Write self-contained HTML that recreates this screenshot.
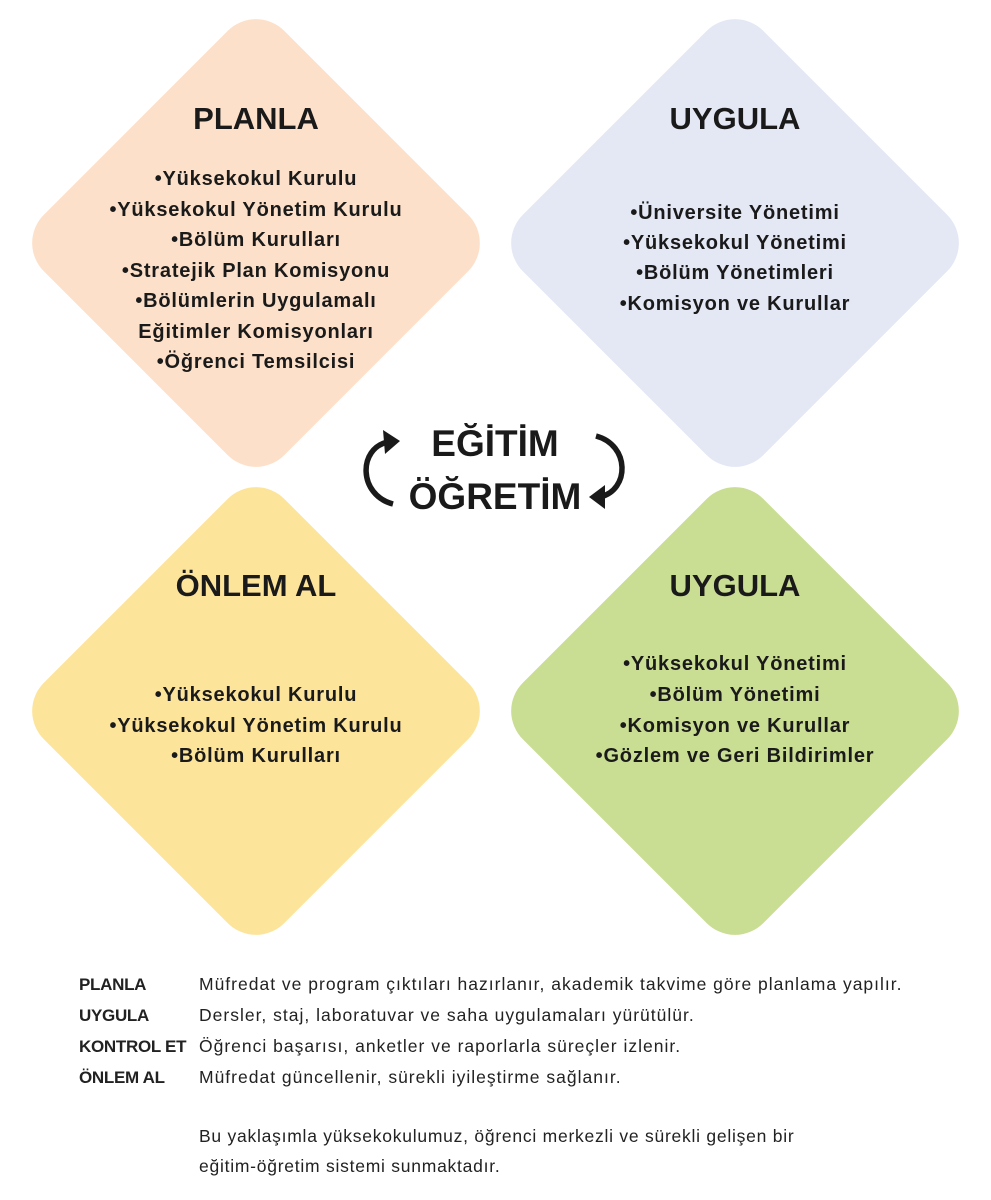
<!DOCTYPE html>
<html><head><meta charset="utf-8"><style>
html,body{margin:0;padding:0;background:#fff;}
body{width:991px;height:1200px;overflow:hidden;position:relative;font-family:"Liberation Sans",sans-serif;}
svg{position:absolute;left:0;top:0;}
.t{font-family:"Liberation Sans",sans-serif;font-weight:bold;fill:#1a1a1a;text-anchor:middle;}
.h{font-size:31px;}
.i{font-size:20px;letter-spacing:0.8px;}
.c{font-size:37px;}
.leg{position:absolute;left:79px;font-size:17.5px;color:#222;white-space:nowrap;}
.leg b{display:inline-block;width:120px;font-weight:bold;letter-spacing:-0.3px;font-size:17px;}
.leg span{letter-spacing:1px;}
.p{position:absolute;left:199px;font-size:17.5px;color:#222;line-height:30px;letter-spacing:0.75px;}
</style></head><body>
<svg width="991" height="1200" viewBox="0 0 991 1200">
<g transform="translate(256,243) rotate(45)"><rect x="-170" y="-170" width="340" height="340" rx="40" fill="#fde0c9"/></g>
<g transform="translate(735,243) rotate(45)"><rect x="-170" y="-170" width="340" height="340" rx="40" fill="#e4e7f4"/></g>
<g transform="translate(256,711) rotate(45)"><rect x="-170" y="-170" width="340" height="340" rx="40" fill="#fde49b"/></g>
<g transform="translate(735,711) rotate(45)"><rect x="-170" y="-170" width="340" height="340" rx="40" fill="#c9dd93"/></g>

<text class="t h" x="256" y="129">PLANLA</text>
<text class="t i" x="256" y="185">•Yüksekokul Kurulu</text>
<text class="t i" x="256" y="216">•Yüksekokul Yönetim Kurulu</text>
<text class="t i" x="256" y="246">•Bölüm Kurulları</text>
<text class="t i" x="256" y="277">•Stratejik Plan Komisyonu</text>
<text class="t i" x="256" y="307">•Bölümlerin Uygulamalı</text>
<text class="t i" x="256" y="338">Eğitimler Komisyonları</text>
<text class="t i" x="256" y="368">•Öğrenci Temsilcisi</text>

<text class="t h" x="735" y="129">UYGULA</text>
<text class="t i" x="735" y="219">•Üniversite Yönetimi</text>
<text class="t i" x="735" y="249">•Yüksekokul Yönetimi</text>
<text class="t i" x="735" y="279">•Bölüm Yönetimleri</text>
<text class="t i" x="735" y="310">•Komisyon ve Kurullar</text>

<text class="t h" x="256" y="596">ÖNLEM AL</text>
<text class="t i" x="256" y="701">•Yüksekokul Kurulu</text>
<text class="t i" x="256" y="732">•Yüksekokul Yönetim Kurulu</text>
<text class="t i" x="256" y="762">•Bölüm Kurulları</text>

<text class="t h" x="735" y="596">UYGULA</text>
<text class="t i" x="735" y="670">•Yüksekokul Yönetimi</text>
<text class="t i" x="735" y="701">•Bölüm Yönetimi</text>
<text class="t i" x="735" y="732">•Komisyon ve Kurullar</text>
<text class="t i" x="735" y="762">•Gözlem ve Geri Bildirimler</text>

<text class="t c" x="495" y="456">EĞİTİM</text>
<text class="t c" x="495" y="509">ÖĞRETİM</text>

<path d="M393 504 C 358 495, 358 448, 388 442" fill="none" stroke="#1a1a1a" stroke-width="5.5"/>
<path d="M383 430 L400 441 L385 454 Z" fill="#1a1a1a"/>
<path d="M596 436 C 630 445, 630 490, 600 497" fill="none" stroke="#1a1a1a" stroke-width="5.5"/>
<path d="M605 485 L589 497 L605 509 Z" fill="#1a1a1a"/>
</svg>

<div class="leg" style="top:974px"><b>PLANLA</b><span>Müfredat ve program çıktıları hazırlanır, akademik takvime göre planlama yapılır.</span></div>
<div class="leg" style="top:1005px"><b>UYGULA</b><span>Dersler, staj, laboratuvar ve saha uygulamaları yürütülür.</span></div>
<div class="leg" style="top:1036px"><b>KONTROL ET</b><span>Öğrenci başarısı, anketler ve raporlarla süreçler izlenir.</span></div>
<div class="leg" style="top:1067px"><b>ÖNLEM AL</b><span>Müfredat güncellenir, sürekli iyileştirme sağlanır.</span></div>
<div class="p" style="top:1121px">Bu yaklaşımla yüksekokulumuz, öğrenci merkezli ve sürekli gelişen bir<br>eğitim-öğretim sistemi sunmaktadır.</div>
</body></html>
